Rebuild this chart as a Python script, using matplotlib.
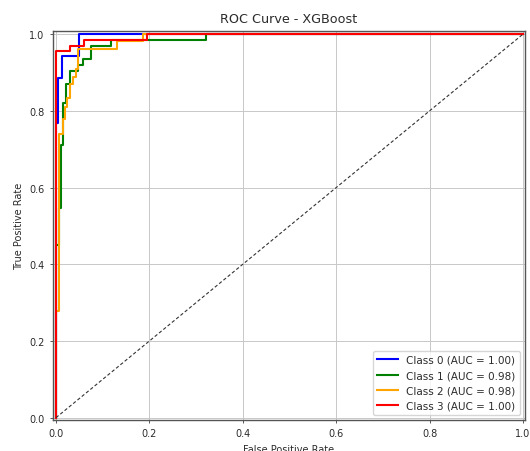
import matplotlib
matplotlib.use("Agg")
import matplotlib.pyplot as plt

# ROC corner points, one pair of lists per class
fpr_0 = [0, 0, 0.004, 0.004, 0.012, 0.012, 0.049, 0.049, 1]
tpr_0 = [0, 0.769, 0.769, 0.885, 0.885, 0.942, 0.942, 1, 1]

fpr_1 = [0, 0, 0.006, 0.006, 0.011, 0.011, 0.016, 0.016, 0.021, 0.021, 0.030, 0.030,
         0.048, 0.048, 0.057, 0.057, 0.074, 0.074, 0.118, 0.118, 0.322, 0.322, 1]
tpr_1 = [0, 0.45, 0.45, 0.548, 0.548, 0.71, 0.71, 0.82, 0.82, 0.871, 0.871, 0.903,
         0.903, 0.919, 0.919, 0.935, 0.935, 0.968, 0.968, 0.984, 0.984, 1, 1]

fpr_2 = [0, 0, 0.007, 0.007, 0.014, 0.014, 0.019, 0.019, 0.024, 0.024, 0.031, 0.031,
         0.037, 0.037, 0.043, 0.043, 0.047, 0.047, 0.131, 0.131, 0.186, 0.186, 1]
tpr_2 = [0, 0.279, 0.279, 0.74, 0.74, 0.779, 0.779, 0.811, 0.811, 0.833, 0.833, 0.87,
         0.87, 0.889, 0.889, 0.909, 0.909, 0.961, 0.961, 0.981, 0.981, 1, 1]

fpr_3 = [0, 0, 0.031, 0.031, 0.061, 0.061, 0.195, 0.195, 1]
tpr_3 = [0, 0.955, 0.955, 0.97, 0.97, 0.985, 0.985, 1, 1]

auc_values = [1.00, 0.98, 0.98, 1.00]
class_colors = ["blue", "green", "orange", "red"]

curves = [(fpr_0, tpr_0), (fpr_1, tpr_1), (fpr_2, tpr_2), (fpr_3, tpr_3)]

text_color = "#2b2b2b"

fig = plt.figure(figsize=(5.3, 4.52), dpi=100)
ax = fig.add_axes([0.1, 0.0686, 0.8906, 0.8613])

for i, (fpr, tpr) in enumerate(curves):
    ax.plot(fpr, tpr, color=class_colors[i], lw=1.5,
            label="Class %d (AUC = %.2f)" % (i, auc_values[i]))

ax.plot([0, 1], [0, 1], "--", color="#333333", lw=0.8, dashes=(3, 2))

ax.set_xlim(-0.0064, 1.0043)
ax.set_ylim(-0.006, 1.009)
ax.set_title("ROC Curve - XGBoost", fontsize=9.2, pad=6, color=text_color)
ax.set_xlabel("False Positive Rate", fontsize=7, color=text_color)
ax.set_ylabel("True Positive Rate", fontsize=7, color=text_color)
ax.tick_params(labelsize=7, length=2.5, width=0.7, colors="#555555", labelcolor=text_color)
ax.grid(True, lw=0.7, color="#c8c8c8")
for spine in ax.spines.values():
    spine.set_linewidth(1.0)
    spine.set_color("#555555")
leg = ax.legend(loc="lower right", fontsize=7.5)
for t in leg.get_texts():
    t.set_color(text_color)

plt.savefig("out.png", dpi=100)
